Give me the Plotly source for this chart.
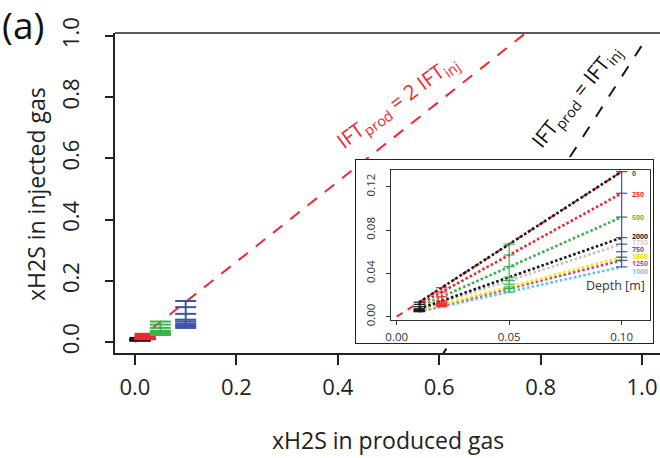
import plotly.graph_objects as go

# ---------------- data ----------------
x_prod = [0.01, 0.02, 0.05, 0.10]          # xH2S in produced gas
depths = [0, 250, 500, 750, 1000, 1250, 1500, 1750, 2000]
v0    = [0.0134, 0.0268, 0.0670, 0.1340]
v250  = [0.0114, 0.0228, 0.0570, 0.1140]
v500  = [0.0092, 0.0184, 0.0462, 0.0920]
v750  = [0.0060, 0.0120, 0.0300, 0.0600]
v1000 = [0.0046, 0.0092, 0.0228, 0.0460]
v1250 = [0.0052, 0.0104, 0.0260, 0.0520]
v1500 = [0.0055, 0.0110, 0.0275, 0.0550]
v1750 = [0.0067, 0.0134, 0.0335, 0.0670]
v2000 = [0.0073, 0.0146, 0.0365, 0.0730]
series = [v0, v250, v500, v750, v1000, v1250, v1500, v1750, v2000]

ratio_2x = 1.31          # IFT_prod = 2 IFT_inj line (slope)
ift_eq_slope = 2.57      # IFT_prod = IFT_inj line
ift_eq_icpt = -1.60
ift_eq_x = [0.55, 1.0]

main_ticks = [0.0, 0.2, 0.4, 0.6, 0.8, 1.0]
inset_xticks = [0.00, 0.05, 0.10]
inset_yticks = [0.00, 0.04, 0.08, 0.12]

# ---------------- styles ----------------
line_cols = ["#1a1a1a", "#f2262e", "#3cb44b", None, "#5cc8e6",
             "#b8469e", "#ffe500", "#c4c4c4", "#1a1a1a"]
label_cols = ["#555555", "#f2262e", "#5cb85c", "#4a5fb0", "#6ccbe6",
              "#b8469e", "#f5d800", "#cfcfcf", "#222222"]
group_cols = ["#1a1a1a", "#f2262e", "#3cb44b", "#3c55a8"]
label_y = [0.1327, 0.1133, 0.0918, 0.0622, 0.0422, 0.0487, 0.0554, 0.0683, 0.0745]

W, H = 660, 458
def px_x(p): return p / W
def px_y(p): return 1 - p / H

FONT = "Open Sans"
fig = go.Figure()

# ---------------- main panel ----------------
fig.add_trace(go.Scatter(x=[0, 1.2], y=[0, 1.2 * ratio_2x], mode="lines",
                         line=dict(color="#f2262e", width=2, dash="12px,10px"),
                         xaxis="x", yaxis="y", showlegend=False, hoverinfo="skip"))
fig.add_trace(go.Scatter(x=ift_eq_x, y=[ift_eq_slope * v + ift_eq_icpt for v in ift_eq_x],
                         mode="lines",
                         line=dict(color="#1a1a1a", width=2, dash="12px,12px"),
                         xaxis="x", yaxis="y", showlegend=False, hoverinfo="skip"))
for j, xp in enumerate(x_prod):
    ys = [s[j] for s in series]
    fig.add_trace(go.Scatter(x=[xp, xp], y=[min(ys), max(ys)], mode="lines",
                             line=dict(color=group_cols[j], width=2),
                             xaxis="x", yaxis="y", showlegend=False, hoverinfo="skip"))
    fig.add_trace(go.Scatter(x=[xp] * len(ys), y=ys, mode="markers",
                             marker=dict(symbol="line-ew", size=15,
                                         line=dict(color=group_cols[j], width=2)),
                             xaxis="x", yaxis="y", showlegend=False))

# ---------------- inset outer box (blank subplot) ----------------
fig.add_trace(go.Scatter(x=[0], y=[0], mode="markers", marker=dict(opacity=0),
                         xaxis="x2", yaxis="y2", showlegend=False, hoverinfo="skip"))

# ---------------- inset ----------------
fig.add_trace(go.Scatter(x=[0, 0.1], y=[0, 0.134], mode="lines",
                         line=dict(color="#f2262e", width=2, dash="7px,6px"),
                         xaxis="x3", yaxis="y3", showlegend=False, hoverinfo="skip"))
for i, s in enumerate(series):
    if line_cols[i] is None:
        continue
    fig.add_trace(go.Scatter(x=x_prod, y=s, mode="lines",
                             line=dict(color=line_cols[i], width=2.6, dash="2.6px,2.2px"),
                             xaxis="x3", yaxis="y3", showlegend=False,
                             name=f"{depths[i]} m"))
for j, xp in enumerate(x_prod):
    ys = [s[j] for s in series]
    fig.add_trace(go.Scatter(x=[xp, xp], y=[min(ys), max(ys)], mode="lines",
                             line=dict(color=group_cols[j], width=1.2),
                             xaxis="x3", yaxis="y3", showlegend=False, hoverinfo="skip"))
    fig.add_trace(go.Scatter(x=[xp] * len(ys), y=ys, mode="markers",
                             marker=dict(symbol="line-ew", size=8,
                                         line=dict(color=group_cols[j], width=1.2)),
                             xaxis="x3", yaxis="y3", showlegend=False))

annotations = []
for i, d in enumerate(depths):
    annotations.append(dict(x=0.1035, y=label_y[i], xref="x3", yref="y3", text=f"<b>{d}</b>",
                            showarrow=False, xanchor="left", yanchor="middle",
                            font=dict(family=FONT, size=7, color=label_cols[i])))
annotations.append(dict(x=px_x(647), y=px_y(285), xref="paper", yref="paper", text="Depth [m]",
                        showarrow=False, xanchor="right", yanchor="middle",
                        font=dict(family=FONT, size=12.5, color="#333333")))
annotations.append(dict(x=px_x(0), y=px_y(24), xref="paper", yref="paper", text="(a)",
                        showarrow=False, xanchor="left", yanchor="middle",
                        font=dict(family=FONT, size=37, color="#111111")))
annotations.append(dict(x=px_x(397), y=px_y(102), xref="paper", yref="paper",
                        text="IFT<sub>prod</sub> = 2 IFT<sub>inj</sub>", textangle=-36,
                        xanchor="center", yanchor="middle",
                        showarrow=False, font=dict(family=FONT, size=20.5, color="#f2262e")))
annotations.append(dict(x=px_x(576), y=px_y(96), xref="paper", yref="paper",
                        text="IFT<sub>prod</sub> = IFT<sub>inj</sub>", textangle=-51,
                        xanchor="center", yanchor="middle",
                        showarrow=False, font=dict(family=FONT, size=20.5, color="#111111")))
# axis titles
annotations.append(dict(x=px_x(388), y=px_y(440), xref="paper", yref="paper",
                        text="xH2S in produced gas", showarrow=False,
                        xanchor="center", yanchor="middle",
                        font=dict(family=FONT, size=23, color="#222222")))
annotations.append(dict(x=px_x(36), y=px_y(194), xref="paper", yref="paper",
                        text="xH2S in injected gas", showarrow=False, textangle=-90,
                        xanchor="center", yanchor="middle",
                        font=dict(family=FONT, size=23, color="#222222")))

shapes = [dict(type="line", xref="paper", yref="paper", x0=px_x(115), x1=1.0,
               y0=px_y(33), y1=px_y(33), line=dict(color="#222", width=1.5))]

axis_common = dict(showgrid=False, zeroline=False, automargin=False)
fig.update_layout(
    width=W, height=H, margin=dict(l=0, r=0, t=0, b=0, autoexpand=False),
    paper_bgcolor="white", plot_bgcolor="white",
    font=dict(family=FONT, color="#222222"),
    xaxis=dict(domain=[px_x(115), 1.0], range=[-0.0394, 1.0355], anchor="y",
               tickvals=main_ticks, tickformat=".1f", ticks="outside", ticklen=10,
               tickwidth=1.5, tickcolor="#222", showline=True, mirror=False,
               linecolor="#222", linewidth=1.5, tickfont=dict(size=22),
               ticklabelstandoff=4, **axis_common),
    yaxis=dict(domain=[px_y(353), px_y(33)], range=[-0.0359, 1.0098], anchor="x",
               tickvals=main_ticks, tickformat=".1f", ticks="outside", ticklen=8,
               tickwidth=1.5, tickcolor="#222", showline=True, mirror=False,
               linecolor="#222", linewidth=1.5, tickfont=dict(size=22), tickangle=-90,
               ticklabelstandoff=17, **axis_common),
    xaxis2=dict(domain=[px_x(356), px_x(653)], range=[0, 1], anchor="y2",
                showticklabels=False, ticks="", showline=True, mirror=True,
                linecolor="#222", linewidth=1.2, **axis_common),
    yaxis2=dict(domain=[px_y(343), px_y(160)], range=[0, 1], anchor="x2",
                showticklabels=False, ticks="", showline=True, mirror=True,
                linecolor="#222", linewidth=1.2, **axis_common),
    xaxis3=dict(domain=[px_x(391), px_x(650)], range=[-0.00253, 0.1126], anchor="y3",
                tickvals=inset_xticks, tickformat=".2f", ticks="outside", ticklen=4,
                tickwidth=1, tickcolor="#333", showline=True, mirror=True,
                linecolor="#333", linewidth=1.2, tickfont=dict(size=11.5, color="#333"),
                ticklabelstandoff=2, **axis_common),
    yaxis3=dict(domain=[px_y(320), px_y(170)], range=[-0.00305, 0.1355], anchor="x3",
                tickvals=inset_yticks, tickformat=".2f", ticks="outside", ticklen=4,
                tickwidth=1, tickcolor="#333", showline=True, mirror=True,
                linecolor="#333", linewidth=1.2, tickfont=dict(size=11.5, color="#333"),
                tickangle=-90, ticklabelstandoff=6, **axis_common),
    annotations=annotations,
    shapes=shapes,
)

fig.write_html("out.html")
